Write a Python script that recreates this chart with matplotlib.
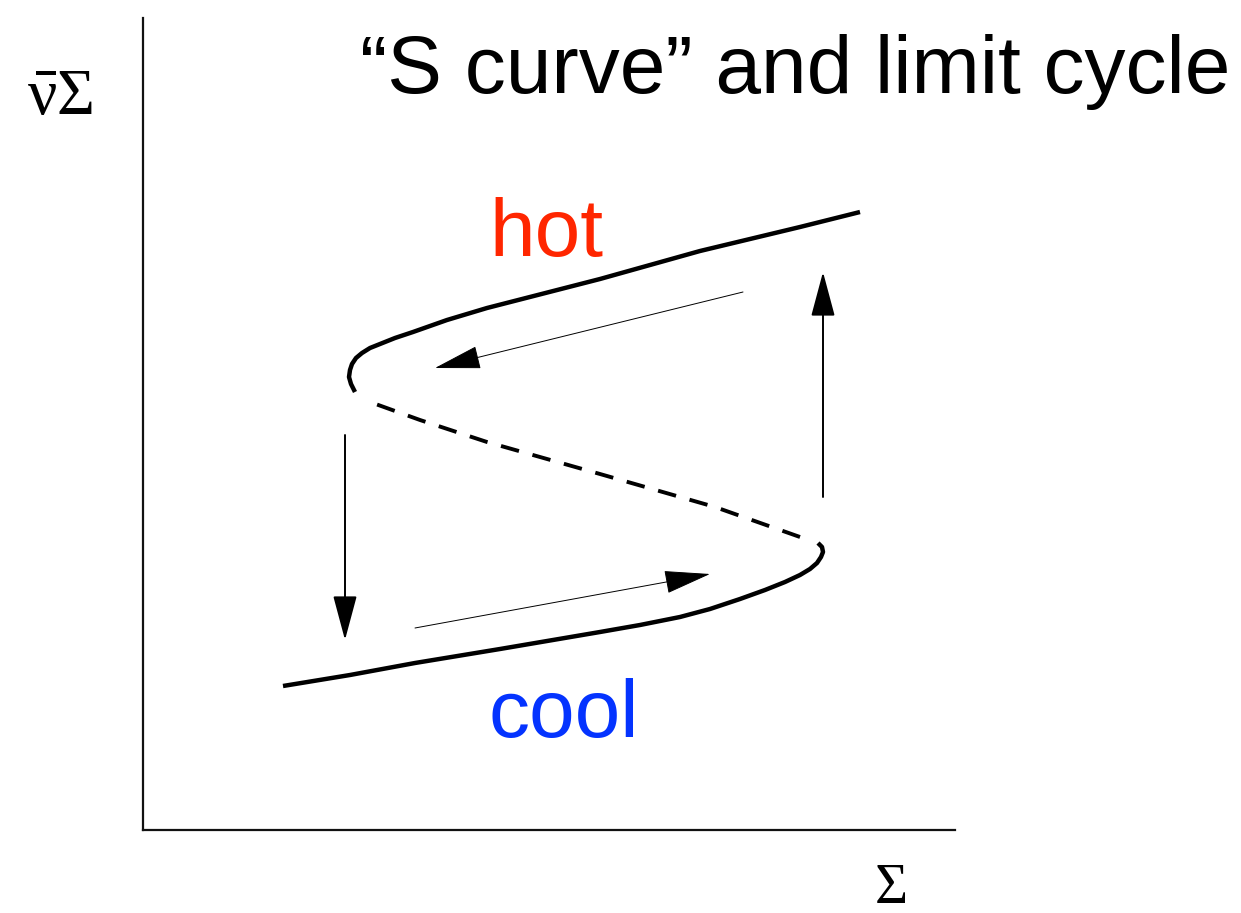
import matplotlib
matplotlib.use("Agg")
import matplotlib.pyplot as plt

plt.rcParams['mathtext.fontset'] = 'custom'
plt.rcParams['mathtext.rm'] = 'Liberation Serif'
plt.rcParams['mathtext.it'] = 'Liberation Serif'
plt.rcParams['mathtext.bf'] = 'Liberation Serif:bold'

# S-curve branches (data units of the plotting box)
lower_x = [140, 207, 272, 357, 457, 497, 537, 567, 597, 622, 642, 657, 667, 674, 678, 680, 679, 675]
lower_y = [144, 155, 167, 181, 198, 205, 213, 221, 231, 240, 248, 255, 261, 267, 273, 278, 283, 287]
middle_x = [657, 572, 457, 344, 277, 227]
middle_y = [293, 323, 356, 388, 410, 428]
upper_x = [212, 208, 206, 207, 209, 213, 219, 227, 237, 252, 270, 304, 344, 457, 557, 657, 717]
upper_y = [438, 446, 453, 460, 466, 472, 477, 482, 486, 492, 498, 510, 522, 551, 579, 603, 618]

# limit-cycle arrows: (start, end)
jump_arrows = [((202, 395), (202, 190)), ((680, 333), (680, 558))]
drift_arrows = [((600, 538), (292, 462)), ((272, 202), (567, 256))]

title = "\u201cS curve\u201d and limit cycle"
hot_label = "hot"
cool_label = "cool"

fig = plt.figure(figsize=(12.41, 9.13), dpi=100)
ax = fig.add_axes([143/1241, 1-830/913, (955-143)/1241, (830-18)/913])
ax.set_xlim(0, 812)
ax.set_ylim(0, 812)
for s in ['top', 'right']:
    ax.spines[s].set_visible(False)
for s in ['left', 'bottom']:
    ax.spines[s].set_linewidth(1.6)
    ax.spines[s].set_color('#111111')
ax.set_xticks([])
ax.set_yticks([])

ax.plot(lower_x, lower_y, color='black', lw=3.2, solid_capstyle='butt', solid_joinstyle='round')
ax.plot(upper_x, upper_y, color='black', lw=3.2, solid_capstyle='butt', solid_joinstyle='round')
ax.plot(middle_x, middle_y, color='black', lw=2.8, linestyle=(0, (4.8, 3.6)))

for (s, e) in jump_arrows:
    ax.annotate('', xy=e, xytext=s,
                arrowprops=dict(arrowstyle='-|>,head_length=2.8,head_width=0.75',
                                mutation_scale=10, lw=1.4, color='black',
                                shrinkA=0, shrinkB=0))
for (s, e) in drift_arrows:
    ax.annotate('', xy=e, xytext=s,
                arrowprops=dict(arrowstyle='-|>,head_length=3.0,head_width=0.75',
                                mutation_scale=10, lw=0.7, color='black',
                                shrinkA=0, shrinkB=0))

ax.text(217, 737, title, fontsize=59, family='Liberation Sans', ha='left',
        va='baseline', clip_on=False)
ax.text(346, 574, hot_label, fontsize=59, family='Liberation Sans', color='#FF2600',
        ha='left', va='baseline')
ax.text(346, 93, cool_label, fontsize=59, family='Liberation Sans', color='#0433FF',
        ha='left', va='baseline')

fig.text(27/1241, 1-114/913, r'$\bar{\nu}\Sigma$', fontsize=47, ha='left', va='baseline')
fig.text(875/1241, 1-903/913, '\u03a3', fontsize=41, family='Liberation Serif',
         ha='left', va='baseline')

fig.savefig('out.png', dpi=100, facecolor='white')
